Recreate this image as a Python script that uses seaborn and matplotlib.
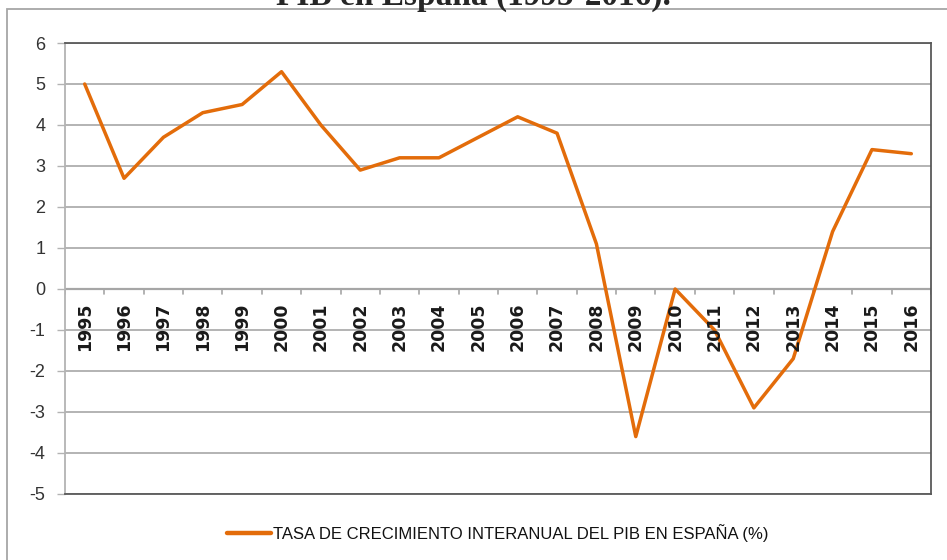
import numpy as np
import pandas as pd
import matplotlib
matplotlib.use('Agg')
import matplotlib.pyplot as plt
from matplotlib.patches import Rectangle
import seaborn as sns

# datos
YEARS = ['1995', '1996', '1997', '1998', '1999', '2000', '2001', '2002', '2003', '2004', '2005',
         '2006', '2007', '2008', '2009', '2010', '2011', '2012', '2013', '2014', '2015', '2016']
PIB = [5.0, 2.7, 3.7, 4.3, 4.5, 5.3, 4.0, 2.9, 3.2, 3.2, 3.7,
       4.2, 3.8, 1.1, -3.6, 0.0, -1.0, -2.9, -1.7, 1.4, 3.4, 3.3]
Y_TICKS = [6, 5, 4, 3, 2, 1, 0, -1, -2, -3, -4, -5]

TITLE = 'PIB en España (1995-2016).'
SERIE = 'TASA DE CRECIMIENTO INTERANUAL DEL PIB EN ESPAÑA (%)'
COLOR = '#E36C0A'

W, H = 947, 560

sns.set_style('white')
plt.rcParams['font.family'] = ['Liberation Sans', 'DejaVu Sans']

df = pd.DataFrame({'anio': YEARS, 'pib': PIB})

fig = plt.figure(figsize=(W / 100, H / 100), dpi=100)
# eje en pixeles (izq 65, der 931, arriba 43, abajo 494)
ax = fig.add_axes([65 / W, 1 - 494 / H, (931 - 65) / W, (494 - 43) / H])

# marco exterior del grafico
fig.patches.append(Rectangle((7 / W, -0.1), 1.2, 1 - 9 / H + 0.1, transform=fig.transFigure,
                             fill=False, edgecolor='#a6a6a6', lw=1.3))

sns.lineplot(data=df, x='anio', y='pib', color=COLOR, lw=2.5, ax=ax,
             label=SERIE, sort=False)

ax.set_xlim(-0.5, len(YEARS) - 0.5)
ax.set_ylim(-5, 6)
ax.set_yticks(Y_TICKS)
ax.set_yticklabels([str(v) for v in Y_TICKS], fontsize=13, color='#333333')
ax.yaxis.grid(True, color='#b3b3b3', lw=1.4)
ax.set_axisbelow(True)
ax.tick_params(axis='y', length=6, width=1, color='#b3b3b3', pad=8, left=True)
ax.set_xlabel('')
ax.set_ylabel('')

for s in ['top', 'right', 'bottom']:
    ax.spines[s].set_color('#595959')
    ax.spines[s].set_linewidth(1.3)
ax.spines['left'].set_color('#b3b3b3')
ax.spines['left'].set_linewidth(1.3)

# eje de categorias en y=0
ax.set_xticks([])
ax.axhline(0, color='#a6a6a6', lw=1.6, zorder=1)
for i in range(len(YEARS) + 1):
    ax.plot([i - 0.5, i - 0.5], [0, -0.12], color='#a6a6a6', lw=1.2, zorder=1)
for i, yr in enumerate(YEARS):
    ax.text(i, -0.33, yr, rotation=90, ha='center', va='top', fontsize=12.5,
            fontweight='bold', color='#1a1a1a', family=['DejaVu Sans'])

leg = ax.legend(loc='center', bbox_to_anchor=(0.5, -0.087), frameon=False, fontsize=12,
                handlelength=2.6, handletextpad=0.15)
for t in leg.get_texts():
    t.set_color('#111111')
for h in leg.get_lines():
    h.set_linewidth(3.2)

fig.text(0.5, 1 - 5 / H, TITLE, ha='center', va='baseline', fontsize=24,
         fontweight='bold', family=['Liberation Serif', 'DejaVu Serif'])

fig.savefig('out.png', dpi=100)
